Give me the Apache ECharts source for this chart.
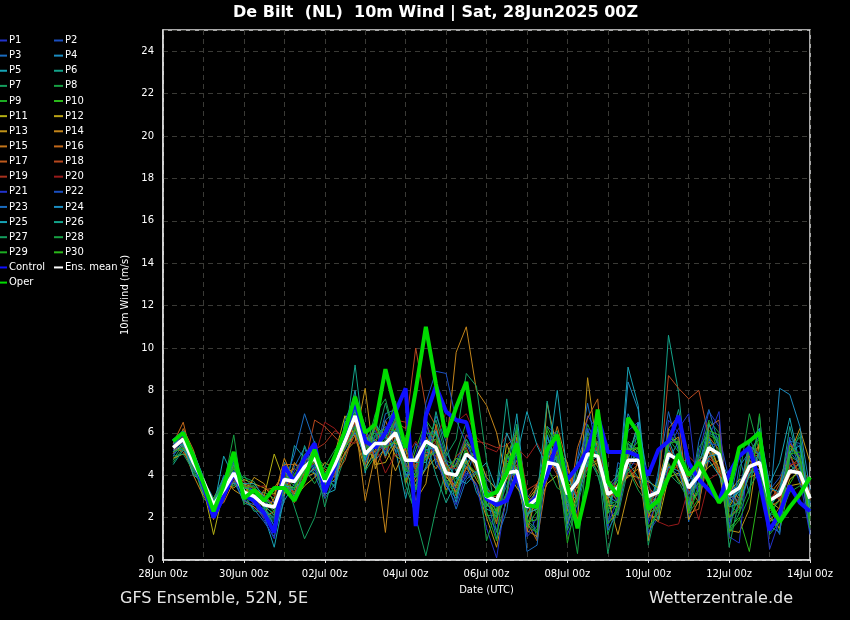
<!DOCTYPE html>
<html><head><meta charset="utf-8">
<script src="https://cdn.jsdelivr.net/npm/echarts@6/dist/echarts.min.js"></script>
<style>html,body{margin:0;padding:0;background:#000;}#c{width:850px;height:620px;}</style>
</head><body><div id="c"></div>
<script>
// forecast hours since 28Jun2025 00Z
const hours = [6,12,18,24,30,36,42,48,54,60,66,72,78,84,90,96,102,108,114,120,126,132,138,144,150,156,162,168,174,180,186,192,198,204,210,216,222,228,234,240,246,252,258,264,270,276,282,288,294,300,306,312,318,324,330,336,342,348,354,360,366,372,378,384];
const tickLabels = ['28Jun 00z','30Jun 00z','02Jul 00z','04Jul 00z','06Jul 00z','08Jul 00z','10Jul 00z','12Jul 00z','14Jul 00z'];

const ensMean = [5.3,5.7,4.6,3.7,2.6,3.3,4.1,3.2, 3.0,2.6,2.5,3.8,3.7,4.4,4.8,3.7, 4.5,5.6,6.8,5.0,5.5,5.5,6.0,4.7, 4.7,5.6,5.3,4.1,4.0,5.0,4.6,3.0, 2.8,4.1,4.2,2.5,2.9,4.6,4.5,3.1, 3.7,5.0,4.9,3.1,3.4,4.7,4.7,3.0, 3.2,5.0,4.7,3.4,4.0,5.3,5.0,3.1, 3.4,4.4,4.6,2.8,3.1,4.2,4.1,2.9];
const control = [5.6,6.0,4.7,3.5,2.0,3.0,4.1,3.1, 2.8,2.2,1.3,4.4,3.7,4.8,5.5,3.2, 4.4,6.0,7.5,5.6,5.3,6.0,7.0,8.1, 1.6,6.8,8.2,7.0,6.6,6.5,4.8,2.9, 2.6,2.8,4.0,2.5,3.0,4.0,5.6,3.8, 4.4,5.2,6.8,5.1,5.1,5.1,4.9,4.0, 5.2,5.6,6.8,4.6,3.8,3.3,2.8,4.1, 4.9,5.3,3.7,1.4,2.2,3.5,2.7,2.3];
const oper = [5.6,6.0,4.9,3.6,2.3,3.5,5.1,2.9, 3.3,2.8,3.4,3.4,2.8,3.8,5.2,3.8, 4.9,6.1,7.7,6.0,6.4,9.0,7.1,5.3, 8.0,11.0,8.3,5.8,7.2,8.4,5.3,3.0, 3.2,4.1,5.5,2.6,2.5,5.2,5.9,3.5, 1.5,3.5,7.1,3.7,3.0,6.7,6.0,2.4, 2.8,3.9,5.0,4.0,4.6,3.7,2.7,3.3, 5.3,5.6,6.0,2.7,1.8,2.5,3.1,3.9];

const P1  = [5.1,5.9,4.8,3.4,2.2,3.0,4.3,3.1, 2.8,2.3,2.0,3.5,3.9,4.6,5.2,3.3, 4.0,5.9,7.2,5.5,6.1,5.0,6.6,4.2, 3.9,5.5,6.2,4.8,3.1,4.2,3.6,2.2, 1.4,3.9,5.6,1.2,2.0,6.3,5.9,1.6, 3.0,6.8,6.1,1.9,2.4,5.0,5.6,1.3, 2.0,6.6,6.0,2.2,5.0,7.0,6.3,1.7, 2.7,5.6,6.2,1.5,1.9,4.6,3.8,1.2];
const P2  = [5.5,5.4,4.2,3.9,2.7,3.6,3.8,3.5, 3.3,2.9,2.7,4.2,3.1,3.9,4.4,4.1, 4.8,5.2,6.4,4.6,5.8,6.3,5.1,5.5, 4.2,6.1,5.0,3.5,4.6,5.9,5.2,3.8, 3.4,4.9,3.6,1.9,3.5,4.0,5.7,3.9, 4.5,4.2,5.6,3.8,2.6,5.5,5.1,3.6, 2.4,4.4,4.0,4.1,3.2,4.7,5.9,3.8, 2.8,5.1,4.0,3.3,3.9,5.0,3.6,2.5];
const P3  = [4.9,5.6,5.0,3.2,2.0,2.8,4.6,2.9, 2.4,1.8,1.1,3.2,4.4,5.3,4.0,2.9, 3.6,6.3,7.6,4.4,5.0,6.9,7.1,3.8, 5.5,4.8,6.8,5.6,3.3,3.9,5.4,2.6, 2.2,3.8,6.1,3.0,1.0,5.9,4.3,2.0, 4.8,7.4,4.9,1.6,4.6,4.2,6.1,1.9, 4.2,7.0,5.1,1.8,4.4,6.4,5.4,2.6, 4.9,3.1,6.8,2.2,1.2,5.6,5.5,2.7];
const P4  = [5.3,6.1,4.4,3.8,2.9,3.9,3.6,3.4, 3.5,2.6,1.6,4.6,3.8,4.1,5.6,3.6, 4.4,5.0,6.1,5.9,4.7,5.3,6.4,5.1, 4.4,6.7,4.5,3.9,4.8,4.4,4.1,3.5, 2.7,4.3,4.0,2.6,3.3,5.9,4.1,3.3, 3.0,5.3,6.3,2.9,3.8,6.9,5.8,2.5, 3.9,4.7,5.6,3.7,4.6,5.8,4.7,2.9, 3.7,4.4,5.0,2.4,3.4,5.7,4.3,2.7];
const P5  = [5.2,5.2,4.7,3.5,2.4,4.9,3.9,2.7, 2.5,2.1,0.6,3.0,5.4,4.8,4.5,3.1, 3.3,6.0,8.0,4.1,6.4,5.8,5.2,2.9, 4.9,5.3,6.0,4.4,2.7,4.8,3.2,2.4, 2.2,3.9,6.9,2.4,2.7,4.6,4.9,2.6, 3.1,4.6,4.9,3.5,3.0,9.1,7.3,2.8, 3.4,5.2,4.5,2.5,3.3,5.7,4.8,3.9, 3.0,5.5,6.2,3.6,4.6,6.7,4.5,2.2];
const P6  = [5.0,5.8,5.1,3.9,2.3,3.2,4.8,3.7, 2.7,2.4,1.9,3.4,3.3,5.4,4.2,3.8, 4.6,5.6,9.2,5.2,4.8,6.2,6.3,4.9, 3.3,4.4,7.0,5.1,4.2,5.7,4.4,3.2, 3.1,4.6,3.8,2.0,2.8,3.8,5.2,2.3, 2.8,4.9,4.0,2.2,4.3,4.6,3.9,2.3, 3.8,10.6,7.9,3.2,3.6,4.9,5.0,2.6, 3.5,4.0,4.9,2.1,2.9,4.2,4.6,3.1];
const P7  = [4.7,5.5,4.3,3.7,2.6,3.4,3.5,3.9, 3.7,2.8,2.4,4.0,2.5,1.0,2.0,3.9, 3.5,4.9,6.3,4.8,5.5,7.4,5.6,4.0, 2.0,0.2,2.4,4.3,3.8,5.4,5.0,3.6, 1.3,2.8,4.4,2.9,2.2,4.3,4.5,1.9, 2.6,4.4,5.1,3.2,2.1,4.3,5.3,3.1, 2.2,4.1,3.6,3.9,4.8,5.2,4.2,1.3, 2.2,4.3,3.9,2.6,3.1,4.5,4.0,3.6];
const P8  = [4.6,5.3,4.6,2.9,2.5,3.5,5.9,2.6, 3.0,3.2,2.9,3.6,4.1,3.7,5.0,4.4, 4.2,5.4,6.7,5.6,6.0,4.9,6.8,4.5, 2.5,6.4,5.5,3.1,5.0,6.5,4.6,2.1, 2.1,3.2,6.4,1.9,1.4,5.4,4.6,1.7, 4.2,6.4,5.3,1.2,2.7,5.5,4.9,1.6, 2.0,6.2,5.6,2.3,4.8,6.6,6.0,1.2, 3.9,6.9,5.1,1.3,2.1,5.2,5.8,2.3];
const P9  = [5.4,5.7,4.1,3.6,2.8,3.1,4.2,3.3, 2.9,2.5,2.2,3.9,3.5,4.3,4.6,3.5, 4.7,5.8,7.0,4.9,5.3,5.6,5.9,4.3, 4.0,5.2,4.9,4.5,3.6,5.1,4.7,3.4, 1.8,4.8,5.2,1.6,2.3,6.1,5.0,2.8, 3.2,5.6,6.1,2.4,2.6,5.0,5.6,2.6, 2.4,5.7,5.1,2.9,3.1,5.8,5.2,2.0, 2.9,4.9,5.4,2.3,2.8,4.9,4.6,1.9];
const P10 = [5.6,6.0,4.4,3.3,2.2,3.0,4.0,3.4, 3.2,2.8,2.6,3.3,4.0,5.0,5.1,3.9, 4.9,6.1,6.5,5.3,6.2,5.9,7.5,3.7, 5.2,6.6,5.9,3.7,4.0,5.2,4.3,2.7, 2.0,4.5,3.9,1.6,3.1,4.8,5.6,3.2, 4.4,5.4,5.9,2.5,4.0,5.3,4.6,2.8, 2.9,6.0,5.4,2.4,3.5,6.5,4.9,1.5, 2.0,0.4,3.3,2.6,1.4,3.6,4.4,2.4];
const P11 = [5.1,5.4,4.6,3.4,1.2,3.3,3.8,3.6, 3.4,3.0,5.0,3.7,3.1,4.7,4.9,3.0, 5.0,6.8,5.8,4.3,5.2,6.0,4.9,4.6, 3.5,4.3,4.8,3.9,3.5,4.7,3.8,3.0, 2.3,5.5,4.1,2.2,2.4,3.6,4.0,1.7, 3.2,4.5,4.7,2.6,2.5,5.0,5.3,2.2, 1.8,3.9,4.1,3.4,4.2,5.6,4.3,2.5, 3.3,4.7,4.4,2.8,2.4,3.8,4.2,3.8];
const P12 = [4.8,5.0,4.9,3.1,2.9,3.7,3.4,3.8, 3.6,3.4,3.1,4.4,2.9,3.5,3.9,4.6, 4.3,5.3,6.0,5.7,4.5,4.6,5.5,5.7, 4.6,4.9,5.2,4.2,4.5,5.5,5.1,3.9, 3.3,4.2,3.4,2.8,3.4,4.1,4.6,3.6, 3.4,5.1,4.4,3.4,3.2,4.0,3.9,3.7, 3.4,4.5,3.8,3.1,3.9,4.4,4.7,3.2, 3.8,3.9,4.1,3.5,3.0,3.5,3.6,3.2];
const P13 = [5.2,5.6,4.5,3.5,2.1,3.8,3.3,3.0, 3.9,3.6,2.7,3.1,4.6,3.9,4.1,3.4, 3.8,5.1,5.6,8.1,4.3,5.4,4.2,5.3, 2.8,3.6,6.4,4.0,3.2,4.4,3.5,2.0, 0.6,3.0,5.8,1.4,1.1,7.4,5.2,4.6, 1.8,8.6,5.0,2.9,1.2,3.2,4.7,0.9, 3.7,5.5,5.8,1.9,2.8,5.4,4.3,1.4, 1.3,2.4,5.6,2.0,1.5,5.0,6.2,4.6];
const P14 = [5.7,5.3,4.0,3.0,2.4,3.5,4.4,3.3, 3.1,2.2,2.9,4.8,3.7,4.2,5.4,3.8, 4.1,5.5,6.6,2.8,5.0,1.3,6.0,4.9, 3.7,5.0,4.3,5.2,9.8,11.0,8.0,7.3, 6.0,3.8,4.7,2.0,3.6,4.7,5.5,3.0, 3.7,4.3,4.6,2.9,3.6,3.9,4.3,2.0, 3.3,4.0,4.5,3.5,2.7,4.9,5.1,2.9, 2.5,4.9,4.5,3.1,3.7,5.0,3.9,2.3];
const P15 = [5.0,6.2,5.2,3.7,2.6,2.7,3.7,3.6, 2.6,3.3,3.4,4.1,4.3,4.0,4.3,4.2, 3.9,5.7,7.4,6.1,4.6,6.6,5.3,5.2, 4.3,5.8,5.1,3.3,4.1,4.6,4.0,2.9, 2.6,4.7,4.2,1.3,3.2,4.5,6.3,4.5, 2.9,5.0,5.2,3.3,2.8,4.4,3.5,3.0, 2.3,5.1,4.6,2.3,4.7,5.1,4.0,3.4, 2.9,4.4,5.5,2.5,2.8,4.4,4.8,2.9];
const P16 = [5.5,6.5,4.5,3.2,1.9,3.4,4.5,2.8, 2.5,2.0,2.3,4.5,4.5,4.4,4.7,3.2, 4.3,5.0,5.9,4.5,5.7,5.2,6.2,3.6, 4.8,5.6,5.7,4.6,3.0,5.0,4.9,3.1, 1.7,4.9,6.1,1.8,0.9,3.9,5.8,2.3, 5.3,6.7,7.6,1.7,2.3,4.8,6.4,2.1, 2.0,6.2,6.8,2.2,2.4,6.3,6.6,2.0, 2.5,5.4,4.9,1.8,2.5,5.5,4.7,1.4];
const P17 = [5.3,5.1,4.3,3.8,2.3,3.1,4.1,3.2, 3.2,3.1,2.5,3.6,3.2,4.1,4.6,4.3, 4.0,4.7,6.2,5.0,5.1,5.6,5.8,4.4, 4.5,5.1,4.9,4.1,3.4,4.3,5.4,3.0, 3.0,3.8,4.5,2.9,3.6,4.5,4.3,2.5, 3.5,4.9,4.2,3.4,3.5,4.8,4.6,3.4, 3.0,5.5,4.2,3.9,4.5,5.1,4.1,3.5, 2.6,4.0,4.7,3.6,2.8,4.0,4.6,2.8];
const P18 = [5.4,5.8,4.8,3.4,2.8,3.6,3.6,3.5, 3.4,2.6,2.1,3.8,2.7,4.4,6.6,6.3, 5.8,5.3,6.5,5.2,6.3,4.8,6.5,6.2, 10.0,7.2,6.3,3.9,4.9,5.3,4.2,3.3, 3.1,4.4,3.7,2.8,3.0,4.9,4.0,4.3, 3.0,4.6,5.4,3.0,3.2,4.1,4.5,2.6, 3.3,8.7,8.1,7.6,8.0,5.8,5.2,3.2, 3.4,5.0,4.9,2.7,3.6,5.5,4.8,3.1];
const P19 = [5.6,5.5,4.4,3.6,2.5,3.2,3.9,3.1, 2.9,2.7,2.4,4.1,3.0,4.0,5.2,5.5, 6.1,5.8,6.8,5.4,4.9,5.5,6.6,6.5, 4.1,6.4,5.5,4.4,4.3,5.9,5.6,5.5, 5.3,5.4,5.9,3.3,3.6,4.2,5.1,3.4, 3.7,4.0,5.5,3.2,3.9,4.6,4.5,2.7, 2.1,4.3,4.4,4.9,4.4,4.8,4.4,3.0, 2.8,4.2,4.3,2.9,3.3,4.9,4.1,2.9];
const P20 = [5.0,5.9,4.7,3.9,2.7,3.3,3.8,3.7, 3.4,3.5,3.0,3.3,3.9,3.6,4.8,6.5, 6.2,5.6,5.5,6.1,5.4,4.1,5.0,4.8, 5.6,4.7,5.6,7.0,6.5,6.9,5.8,5.3, 5.1,5.9,5.3,4.8,5.5,4.6,4.2,3.3, 3.1,4.4,4.8,3.8,3.4,4.4,3.8,3.6, 1.8,1.6,1.7,3.4,1.9,3.8,4.1,3.5, 2.5,4.5,3.8,3.0,2.9,4.5,4.6,3.6];
const P21 = [5.2,5.6,4.9,3.5,2.4,3.1,4.0,3.0, 2.7,1.9,1.0,3.4,4.2,4.9,4.3,3.0, 4.7,6.2,7.3,5.3,5.6,5.1,6.4,3.9, 4.9,6.5,4.7,3.6,2.6,4.1,3.5,1.5, 0.1,3.2,4.9,1.1,1.6,5.3,6.0,1.2, 2.4,6.2,5.9,1.6,3.0,6.1,6.5,1.7, 3.0,5.3,6.2,6.9,2.8,5.8,7.0,1.1, 0.8,5.4,5.0,0.5,1.9,5.6,4.9,1.4];
const P22 = [5.4,5.9,4.6,3.3,2.6,3.6,4.2,3.3, 3.0,2.8,2.3,3.9,3.7,4.2,4.5,3.4, 4.2,5.7,6.9,4.7,5.9,6.0,6.1,4.6, 3.2,7.4,8.9,8.8,6.6,5.5,4.4,2.8, 2.9,4.4,5.2,3.1,2.5,5.2,4.3,2.9, 3.6,6.2,4.8,3.3,3.9,4.2,4.9,3.0, 3.4,4.8,5.0,3.1,4.0,5.5,5.4,2.7, 3.3,5.4,4.5,2.8,3.1,5.8,5.3,2.6];
const P23 = [5.0,5.4,4.3,3.6,2.3,4.0,3.7,2.8, 2.6,2.4,1.6,3.6,5.0,6.9,5.5,3.7, 3.7,6.6,7.7,6.3,4.8,6.6,7.0,4.2, 3.9,4.3,5.4,3.8,2.4,3.8,4.2,3.1, 1.0,2.3,5.6,0.4,0.7,4.8,4.3,1.5, 4.7,6.1,5.3,1.4,2.3,4.6,5.0,1.2, 2.4,5.8,5.4,2.6,5.6,7.1,5.4,1.5, 4.4,5.1,5.8,1.6,1.3,5.1,4.5,1.3];
const P24 = [5.5,5.7,5.1,3.9,2.5,3.4,4.4,3.4, 3.3,2.5,1.3,2.8,3.6,4.6,4.7,3.6, 4.6,5.4,6.0,4.9,5.3,5.8,5.4,4.1, 3.4,5.2,5.3,3.5,2.9,4.9,4.8,3.3, 2.5,5.0,3.9,2.2,2.4,5.8,4.6,2.4, 4.6,4.4,6.6,3.0,2.7,8.4,7.1,2.3, 3.2,4.4,4.2,2.6,4.1,4.9,5.0,3.4, 2.6,4.1,4.3,2.4,8.1,7.8,6.3,3.3];
const P25 = [5.1,5.5,4.0,3.7,2.8,3.5,3.6,3.6, 3.6,3.0,2.4,3.5,3.4,3.8,4.4,4.0, 3.4,6.5,7.0,4.7,6.6,4.9,5.7,5.4, 4.6,4.6,6.1,4.6,3.9,3.6,4.1,4.6, 3.3,6.0,4.9,7.0,5.4,4.4,8.0,4.0, 2.8,4.7,6.2,3.2,3.5,4.7,6.5,3.8, 3.2,5.7,4.4,3.5,4.3,4.7,4.0,2.9, 3.2,4.7,6.1,3.4,3.2,5.1,5.4,2.3];
const P26 = [4.5,5.2,4.5,3.1,2.7,3.9,4.5,3.2, 3.1,2.6,2.1,3.6,3.0,4.3,4.1,3.8, 4.9,5.9,7.1,5.8,5.6,5.3,6.5,4.0, 4.1,5.7,4.0,2.7,3.7,4.5,5.3,2.5, 3.4,7.6,3.8,2.1,2.9,7.5,4.6,2.7, 3.8,5.7,5.0,3.5,4.0,5.1,6.1,3.1, 1.9,5.4,7.1,4.3,3.7,6.4,5.3,2.5, 2.7,4.0,5.1,2.5,3.2,6.3,4.4,3.0];
const P27 = [4.9,5.0,4.2,3.4,2.1,2.9,4.7,3.1, 2.3,2.3,1.8,4.1,3.8,4.8,4.8,2.5, 4.3,5.5,7.8,4.2,4.9,5.7,6.7,3.5, 2.2,5.3,6.6,4.9,5.7,8.8,8.2,4.7, 2.0,3.1,6.4,1.8,1.3,5.5,6.1,1.4, 2.7,6.0,4.8,0.3,2.7,5.3,5.8,0.7, 2.8,5.8,5.5,2.3,5.3,6.0,5.7,0.6, 2.9,5.7,4.8,1.2,1.8,4.8,6.0,2.5];
const P28 = [5.7,5.9,4.3,3.6,2.9,3.7,3.5,4.0, 3.3,2.4,2.0,3.3,3.4,4.3,3.6,4.4, 5.2,5.9,6.3,5.1,6.9,7.6,5.8,5.6, 3.3,6.0,5.9,4.7,4.4,5.7,4.9,0.9, 2.4,3.5,5.1,2.4,3.3,4.4,3.4,3.1, 0.3,5.5,4.0,2.6,2.8,4.3,3.3,2.6, 3.6,4.6,3.7,2.8,3.7,5.4,5.0,2.6, 2.2,3.4,4.2,2.2,2.0,3.2,3.5,2.8];
const P29 = [5.1,5.3,4.8,3.9,2.5,3.3,4.4,3.4, 3.5,2.7,2.3,3.9,3.9,4.5,4.6,3.3, 4.5,5.7,6.9,5.0,5.9,6.2,6.1,4.2, 4.2,5.4,5.7,3.7,3.1,5.0,4.5,2.3, 0.9,4.8,6.1,1.6,1.3,4.8,4.9,0.8, 3.0,5.8,5.3,1.7,2.4,5.6,5.2,1.5, 2.3,5.5,5.6,2.2,2.9,5.9,5.6,1.3, 1.9,3.0,6.9,1.5,1.8,5.0,5.1,1.5];
const P30 = [5.3,5.7,4.6,3.5,2.4,3.6,4.3,3.5, 3.1,2.9,2.5,3.6,3.4,4.2,4.8,3.5, 4.4,5.3,6.2,4.9,6.4,5.3,5.6,4.9, 3.9,4.8,5.1,4.3,4.8,4.6,4.1,2.6, 2.3,5.0,4.3,1.8,1.9,6.3,5.3,2.1, 2.9,5.3,5.6,2.2,2.8,5.2,5.3,2.2, 2.5,5.9,5.4,2.3,3.3,6.1,5.9,2.0, 2.4,5.1,5.7,1.8,2.1,5.4,4.8,2.0];

const members = [P1,P2,P3,P4,P5,P6,P7,P8,P9,P10,P11,P12,P13,P14,P15,P16,P17,P18,P19,P20,P21,P22,P23,P24,P25,P26,P27,P28,P29,P30];
const memberColors = ['#2233cc','#1a4fc0','#1a6cc0','#1b8cc0','#17a3b5','#13a38a','#159e5e','#17a043','#1cac22','#2ab81a',
  '#b4b014','#bca516','#c09318','#c4851a','#c3751a','#c2681a','#bf5a1c','#b8481e','#a8321e','#981a1a'];

const FONT = 'DejaVu Sans';
const pairs = arr => arr.map((v, i) => [hours[i], v]);
const series = [];
members.forEach((arr, i) => {
  series.push({
    name: 'P' + (i + 1), type: 'line', data: pairs(arr), showSymbol: false, symbol: 'none',
    lineStyle: { width: 1, color: memberColors[i % 20] }, itemStyle: { color: memberColors[i % 20] },
    silent: true, z: 2
  });
});
series.push({ name: 'Control', type: 'line', data: pairs(control), symbol: 'none',
  lineStyle: { width: 4, color: '#1010ff' }, itemStyle: { color: '#1010ff' }, z: 3 });
series.push({ name: 'Ens. mean', type: 'line', data: pairs(ensMean), symbol: 'none',
  lineStyle: { width: 3.5, color: '#ffffff' }, itemStyle: { color: '#ffffff' }, z: 4 });
series.push({ name: 'Oper', type: 'line', data: pairs(oper), symbol: 'none',
  lineStyle: { width: 4, color: '#00dd00' }, itemStyle: { color: '#00dd00' }, z: 5 });

const col1 = [], col2 = [];
for (let i = 1; i <= 30; i++) (i % 2 ? col1 : col2).push('P' + i);
col1.push('Control', 'Oper');
col2.push('Ens. mean');
const legendBase = {
  orient: 'vertical', top: 33, itemWidth: 9, itemHeight: 2, itemGap: 0.13, icon: 'rect',
  selectedMode: false, padding: 0,
  textStyle: { color: '#ffffff', fontFamily: FONT, fontSize: 10, lineHeight: 15, padding: [0, 0, 0, -3] }
};
const gridLine = { color: '#3a3a36', type: [5, 4], width: 1 };

const option = {
  backgroundColor: '#000000',
  animation: false,
  title: [
    { text: 'De Bilt  (NL)  10m Wind | Sat, 28Jun2025 00Z', left: 228, top: 0,
      textStyle: { color: '#ffffff', fontFamily: FONT, fontSize: 16, fontWeight: 'bold' } },
    { text: 'GFS Ensemble, 52N, 5E', left: 115, top: 586,
      textStyle: { color: '#e6e6e6', fontFamily: FONT, fontSize: 16, fontWeight: 'normal' } },
    { text: 'Wetterzentrale.de', right: 52, top: 586,
      textStyle: { color: '#e6e6e6', fontFamily: FONT, fontSize: 16, fontWeight: 'normal' } }
  ],
  legend: [
    Object.assign({}, legendBase, { left: -2, data: col1 }),
    Object.assign({}, legendBase, { left: 54, data: col2 })
  ],
  grid: { left: 163, right: 40, top: 30, bottom: 60, show: true, borderColor: '#e0e0e0', borderWidth: 1.5, backgroundColor: '#000000' },
  xAxis: {
    type: 'value', min: 0, max: 384, interval: 48,
    name: 'Date (UTC)', nameLocation: 'middle', nameGap: 25,
    nameTextStyle: { color: '#ffffff', fontFamily: FONT, fontSize: 10 },
    axisLine: { show: true, lineStyle: { color: '#e0e0e0', width: 1.5 } },
    axisTick: { show: true, length: 3, lineStyle: { color: '#e0e0e0' } },
    axisLabel: { color: '#ffffff', fontFamily: FONT, fontSize: 10, margin: 9,
      formatter: v => tickLabels[Math.round(v / 48)] },
    splitLine: { show: true, lineStyle: gridLine },
    minorTick: { show: false, splitNumber: 2 },
    minorSplitLine: { show: true, lineStyle: gridLine }
  },
  yAxis: {
    type: 'value', min: 0, max: 25, interval: 2,
    name: '10m Wind (m/s)', nameLocation: 'middle', nameGap: 18,
    nameTextStyle: { color: '#ffffff', fontFamily: FONT, fontSize: 10 },
    axisLine: { show: true, lineStyle: { color: '#e0e0e0', width: 1.5 } },
    axisTick: { show: false },
    axisLabel: { color: '#ffffff', fontFamily: FONT, fontSize: 10, margin: 9, showMaxLabel: false },
    splitLine: { show: true, lineStyle: gridLine }
  },
  series: series
};
const chart = echarts.init(document.getElementById('c'));
chart.setOption(option);
</script>
</body></html>
